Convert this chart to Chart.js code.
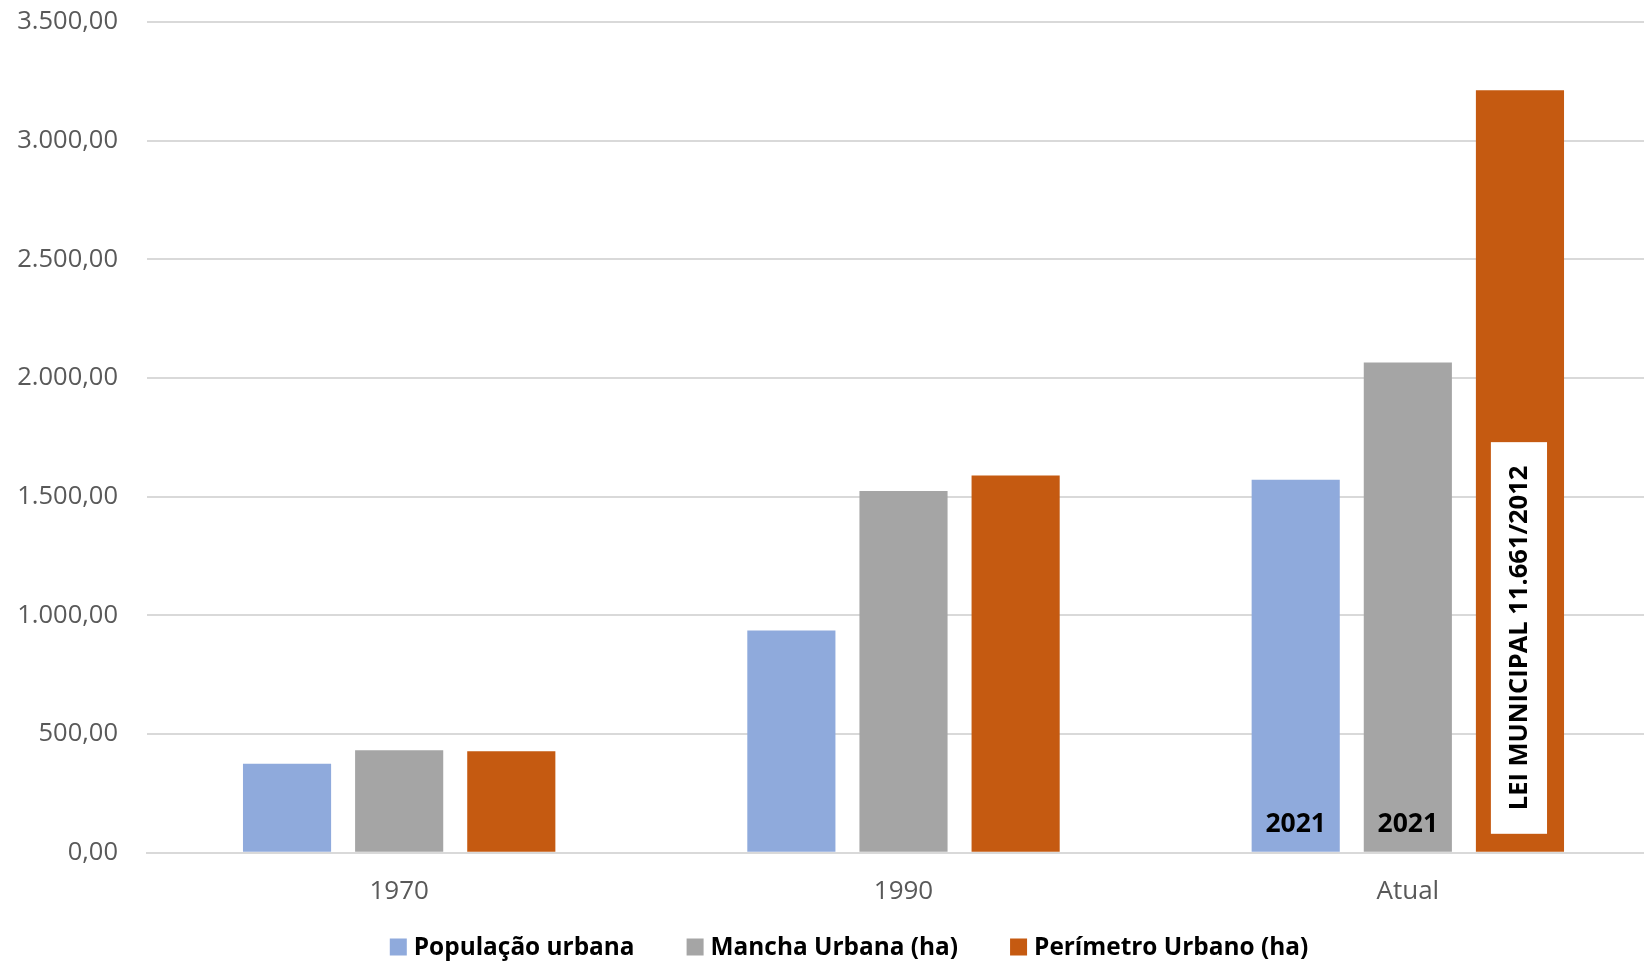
<!DOCTYPE html>
<html>
<head>
<meta charset="utf-8">
<script src="https://cdn.jsdelivr.net/npm/chart.js@4.4.1/dist/chart.umd.min.js"></script>
<style>
  html, body { margin: 0; padding: 0; background: #fff; overflow: hidden; }
  /* a área do gráfico passa um pouco da borda direita, como no original */
  #wrap { width: 1660px; height: 961px; }
</style>
</head>
<body>
<div id="wrap"><canvas id="chart"></canvas></div>
<script>
// dados
const categorias = ['1970', '1990', 'Atual'];
const populacaoUrbana = [375, 936, 1572];
const manchaUrbana = [432, 1524, 2066];
const perimetroUrbano = [428, 1589, 3212];
const yTicks = [0, 500, 1000, 1500, 2000, 2500, 3000, 3500];

// rótulos sobre as barras de "Atual"
const rotuloAno = '2021';
const rotuloLei = 'LEI MUNICIPAL 11.661/2012';
const leiTopoValor = 1730;

const FONT = '"Open Sans", "Noto Sans", sans-serif';

function fmtBR(v) {
    return v.toLocaleString('pt-BR', { minimumFractionDigits: 2, maximumFractionDigits: 2 });
}

// textos "2021" e caixa da lei dentro das barras
const anotacoes = {
    id: 'anotacoes',
    afterDatasetsDraw(chart) {
        const ctx = chart.ctx;
        const last = categorias.length - 1;
        ctx.save();
        ctx.fillStyle = '#000';
        ctx.font = 'bold 26.5px ' + FONT;
        ctx.textAlign = 'center';
        ctx.textBaseline = 'middle';
        [0, 1].forEach(i => {
            const bar = chart.getDatasetMeta(i).data[last];
            ctx.fillText(rotuloAno, bar.x, bar.base - 27);
        });

        const bar = chart.getDatasetMeta(2).data[last];
        const y = chart.scales.y;
        const left = bar.x - bar.width / 2 + 15;
        const right = bar.x + bar.width / 2 - 17;
        const top = y.getPixelForValue(leiTopoValor);
        const bottom = bar.base - 18;
        ctx.fillStyle = '#fff';
        ctx.fillRect(left, top, right - left, bottom - top);
        ctx.translate((left + right) / 2, (top + bottom) / 2);
        ctx.rotate(-Math.PI / 2);
        ctx.fillStyle = '#000';
        ctx.font = 'bold 25.5px ' + FONT;
        ctx.fillText(rotuloLei, 0, 1);
        ctx.restore();
    }
};

// legenda desenhada à mão (quadrado + texto, mais juntos que a padrão)
const legenda = {
    id: 'legenda',
    afterDraw(chart) {
        const ctx = chart.ctx;
        const sets = chart.data.datasets;
        ctx.save();
        ctx.font = 'bold 24.4px ' + FONT;
        ctx.textBaseline = 'middle';
        const box = 17, gapTexto = 7, gapItem = 52;
        const larguras = sets.map(d => box + gapTexto + ctx.measureText(d.label).width);
        const total = larguras.reduce((a, b) => a + b, 0) + gapItem * (sets.length - 1);
        let x = 849 - total / 2;
        const yc = 947;
        sets.forEach((d, i) => {
            ctx.fillStyle = d.backgroundColor;
            ctx.fillRect(x, yc - box / 2, box, box);
            ctx.fillStyle = '#000';
            ctx.fillText(d.label, x + box + gapTexto, yc + 1);
            x += larguras[i] + gapItem;
        });
        ctx.restore();
    }
};

const ctx = document.getElementById('chart').getContext('2d');
new Chart(ctx, {
    type: 'bar',
    data: {
        labels: categorias,
        datasets: [
            { label: 'População urbana', data: populacaoUrbana, backgroundColor: '#8FAADC' },
            { label: 'Mancha Urbana (ha)', data: manchaUrbana, backgroundColor: '#A5A5A5' },
            { label: 'Perímetro Urbano (ha)', data: perimetroUrbano, backgroundColor: '#C55A11' }
        ]
    },
    options: {
        responsive: true,
        maintainAspectRatio: false,
        animation: false,
        categoryPercentage: 0.667,
        barPercentage: 0.786,
        layout: { padding: { left: 16, right: 0, top: 22, bottom: 39 } },
        plugins: {
            legend: { display: false },
            tooltip: { enabled: false }
        },
        scales: {
            x: {
                grid: { display: false },
                border: { color: '#D9D9D9', width: 2 },
                ticks: {
                    color: '#595959',
                    font: { family: FONT, size: 26 },
                    padding: 15
                },
                afterFit(axis) { axis.paddingLeft = 0; axis.paddingRight = 0; }
            },
            y: {
                min: 0,
                max: 3500,
                afterBuildTicks(axis) { axis.ticks = yTicks.map(v => ({ value: v })); },
                grid: { color: '#D9D9D9', lineWidth: 2, drawTicks: false },
                border: { display: false },
                ticks: {
                    color: '#595959',
                    font: { family: FONT, size: 25.5 },
                    padding: 29,
                    callback: v => fmtBR(v)
                },
                afterFit(axis) { axis.width = 131; axis.paddingTop = 0; axis.paddingBottom = 0; }
            }
        }
    },
    plugins: [anotacoes, legenda]
});
</script>
</body>
</html>
